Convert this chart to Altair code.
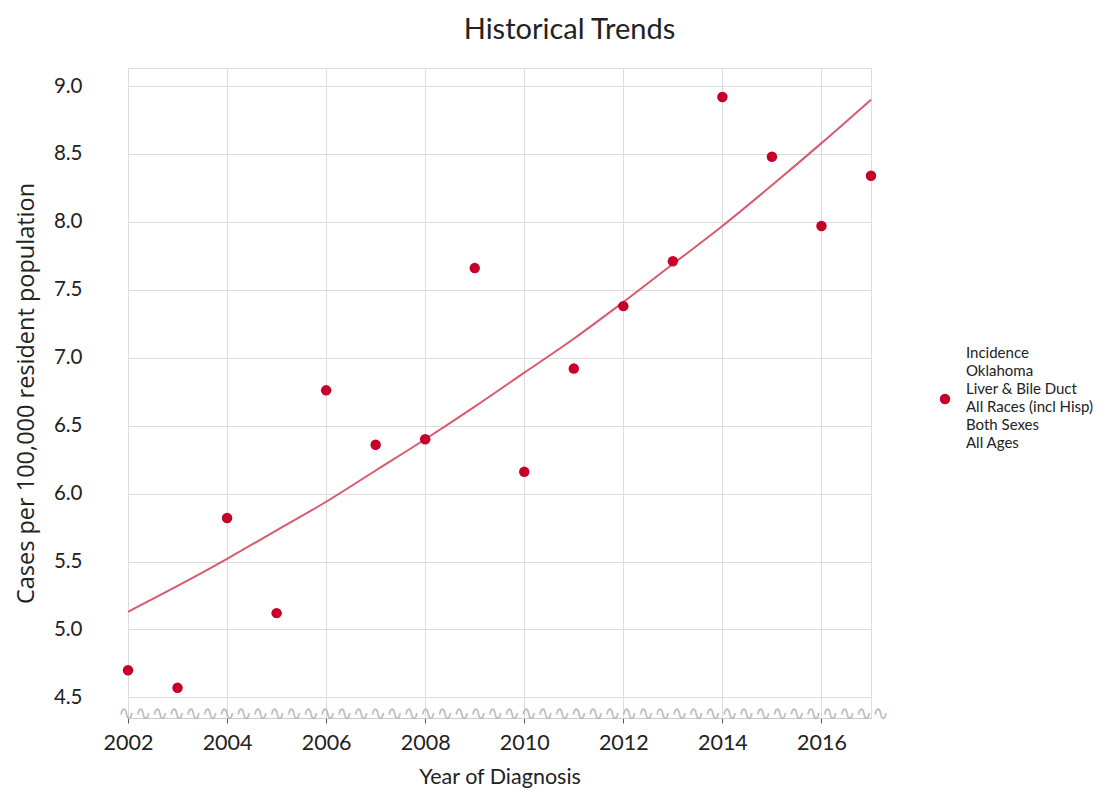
import altair as alt
import pandas as pd

years = list(range(2002, 2018))
rates = [4.70, 4.57, 5.82, 5.12, 6.76, 6.36, 6.40, 7.66, 6.16, 6.92, 7.38, 7.71, 8.92, 8.48, 7.97, 8.34]
trend = [5.13, 5.32, 5.52, 5.73, 5.94, 6.17, 6.40, 6.64, 6.89, 7.14, 7.41, 7.69, 7.97, 8.27, 8.58, 8.90]
legend_lines = ["Incidence", "Oklahoma", "Liver & Bile Duct", "All Races (incl Hisp)", "Both Sexes", "All Ages"]
x_ticks = [2002, 2004, 2006, 2008, 2010, 2012, 2014, 2016]
y_ticks = [4.5, 5.0, 5.5, 6.0, 6.5, 7.0, 7.5, 8.0, 8.5, 9.0]

df = pd.DataFrame({"year": years, "rate": rates, "trend": trend})

POINT = "#c4002b"
LINE = "#d95a6c"
GRID = "#dcdcdc"
TXT = "#222222"

xs = alt.Scale(domain=[2002, 2017], nice=False, zero=False)
ys = alt.Scale(domain=[4.348, 9.133], nice=False, zero=False)

xaxis = alt.Axis(values=x_ticks, format="d", title="Year of Diagnosis", grid=True, gridColor=GRID,
                 ticks=True, tickColor="#555", tickSize=5, domain=True, domainColor="#cccccc",
                 labelFont="Lato", labelFontSize=21.5, labelColor=TXT, labelPadding=9,
                 labelFlush=False,
                 titleFont="Lato", titleFontSize=21.5, titleFontWeight="normal", titleColor=TXT,
                 titlePadding=13)
yaxis = alt.Axis(values=y_ticks, format=".1f", title="Cases per 100,000 resident population",
                 grid=True, gridColor=GRID, ticks=False, domain=False,
                 labelFont="Lato", labelFontSize=20.5, labelColor=TXT, labelPadding=46,
                 titleFont="Open Sans", titleFontSize=23.5, titleFontWeight="normal", titleColor=TXT,
                 titlePadding=15)

base = alt.Chart(df)

line = base.mark_line(color=LINE, strokeWidth=2, interpolate="monotone").encode(
    x=alt.X("year:Q", scale=xs, axis=xaxis),
    y=alt.Y("trend:Q", scale=ys, axis=yaxis),
)

points = base.mark_circle(size=110, opacity=1, color=POINT).encode(
    x=alt.X("year:Q", scale=xs),
    y=alt.Y("rate:Q", scale=ys),
)

wave = alt.Chart(pd.DataFrame({"w": ["∿" * 46]})).mark_text(
    font="DejaVu Sans", fontSize=20, color="#bbbbbb", align="center", baseline="middle"
).encode(
    x=alt.datum(2009.58, scale=xs),
    y=alt.datum(4.376, scale=ys),
    text="w:N",
)

legend_df = pd.DataFrame({"k": [0]})
legend_dot = alt.Chart(legend_df).mark_circle(size=110, opacity=1, color=POINT).encode(
    x=alt.value(817), y=alt.value(331)
)
legend_text = alt.Chart(legend_df).mark_text(
    font="Lato", fontSize=15, color=TXT, align="left", baseline="middle", lineHeight=18
).encode(
    x=alt.value(838), y=alt.value(285), text=alt.value(legend_lines)
)

chart = alt.layer(line, wave, points, legend_dot, legend_text).properties(
    width=743, height=650,
    title=alt.TitleParams("Historical Trends", font="Lato", fontSize=29, fontWeight="normal",
                          color=TXT, anchor="middle", dx=70, offset=23),
    autosize=alt.AutoSizeParams(type="none"),
    padding={"left": 120, "top": 60, "right": 225, "bottom": 77},
).configure_view(stroke=GRID)

chart.save("out.html", embed_options={"renderer": "svg", "actions": False})
